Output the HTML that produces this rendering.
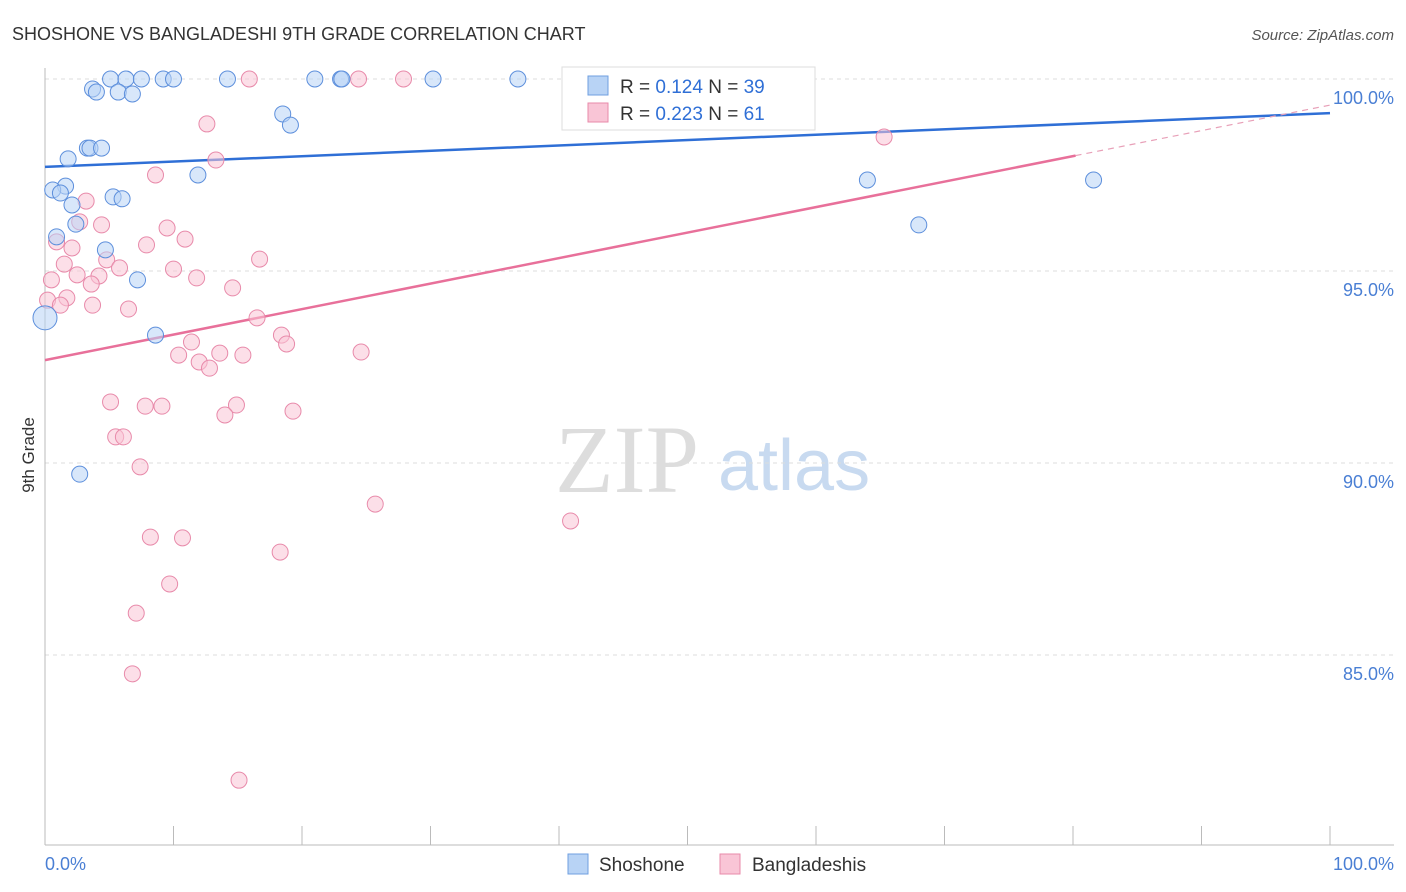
<!DOCTYPE html>
<html><head><meta charset="utf-8"><style>
body{margin:0;background:#fff;font-family:"Liberation Sans",sans-serif}
svg{display:block}
</style></head><body>
<svg id="chart" width="1406" height="892">
<text x="12" y="40" font-size="18" fill="#333">SHOSHONE VS BANGLADESHI 9TH GRADE CORRELATION CHART</text>
<text x="1394" y="40" font-size="15" fill="#555" text-anchor="end" font-style="italic">Source: ZipAtlas.com</text>
<g><text x="555" y="492" font-size="96" font-family="Liberation Serif,serif" fill="#ddd">ZIP</text><text x="718" y="490" font-size="72" fill="#c8daf0">atlas</text></g>
<g id="grid"></g><g id="axes"></g><g id="lines"></g><g id="pts"></g>
<text transform="translate(34,455) rotate(-90)" font-size="17" fill="#333" text-anchor="middle">9th Grade</text>
<text x="45" y="870" font-size="18" fill="#4a7fd4">0.0%</text>
<text x="1394" y="870" font-size="18" fill="#4a7fd4" text-anchor="end">100.0%</text>
<g>
<rect x="562" y="67" width="253" height="63" fill="#fff" stroke="#ddd"/>
<rect x="588" y="76" width="20" height="19" fill="#b8d3f5" stroke="#6f9fe0"/>
<text x="620" y="93" font-size="19" fill="#333">R = <tspan fill="#2f6fd6">0.124</tspan>   N = <tspan fill="#2f6fd6">39</tspan></text>
<rect x="588" y="103" width="20" height="19" fill="#f9c5d6" stroke="#e88aaa"/>
<text x="620" y="120" font-size="19" fill="#333">R = <tspan fill="#2f6fd6">0.223</tspan>   N = <tspan fill="#2f6fd6">61</tspan></text>
</g>
<g>
<rect x="568" y="854" width="20" height="20" fill="#b8d3f5" stroke="#6f9fe0"/><text x="599" y="871" font-size="19" fill="#333">Shoshone</text>
<rect x="720" y="854" width="20" height="20" fill="#f9c5d6" stroke="#e88aaa"/><text x="752" y="871" font-size="19" fill="#333">Bangladeshis</text>
</g>
</svg>
<script>
const yTicks=[100,95,90,85];
const yTickLabels=["100.0%","95.0%","90.0%","85.0%"];
const xTicks=[0,10,20,30,40,50,60,70,80,90,100];
const blueX=[5.1,6.3,7.5,9.2,10.0,14.2,21.0,23.0,23.1,30.2,36.8,3.7,4.0,5.7,6.8,18.5,19.1,3.3,3.5,4.4,1.8,1.6,0.6,1.2,5.3,6.0,2.1,11.9,2.4,0.9,4.7,7.2,8.6,0,2.7,64.0,68.0,81.6,42.3];
const blueY=[100,100,100,100,100,100,100,100,100,100,100,99.74,99.66,99.66,99.61,99.09,98.80,98.20,98.20,98.20,97.92,97.21,97.11,97.03,96.93,96.88,96.72,97.50,96.22,95.89,95.55,94.77,93.33,93.78,89.71,97.37,96.20,97.37,99.11];
const pinkX=[15.9,24.4,27.9,53.2,57.4,12.6,65.3,13.3,8.6,3.2,4.4,2.7,9.5,10.9,7.9,0.9,2.1,16.7,4.8,1.5,5.8,10.0,2.5,4.2,11.8,0.5,3.6,14.6,1.7,0.2,1.2,3.7,6.5,16.5,18.4,11.4,18.8,10.4,13.6,15.4,12.0,12.8,24.6,5.1,7.8,9.1,14.9,14.0,19.3,5.5,6.1,7.4,25.7,40.9,8.2,10.7,18.3,9.7,7.1,6.8,15.1];
const pinkY=[100,100,100,100,100,98.83,98.49,97.89,97.50,96.82,96.20,96.28,96.12,95.83,95.68,95.76,95.60,95.31,95.29,95.18,95.08,95.05,94.90,94.87,94.82,94.77,94.66,94.56,94.30,94.24,94.11,94.11,94.01,93.78,93.33,93.15,93.10,92.81,92.86,92.81,92.63,92.47,92.89,91.59,91.48,91.48,91.51,91.25,91.35,90.68,90.68,89.90,88.93,88.49,88.07,88.05,87.68,86.85,86.09,84.51,81.74];
const blueFit=[97.71,99.11];
const pinkFit=[92.68,99.32];
const pinkSolidEnd=80.2;
const NS="http://www.w3.org/2000/svg";
const X=v=>45+v*12.85, Y=v=>79+(100-v)*38.4;
function mk(p,t,a){const e=document.createElementNS(NS,t);for(const k in a)e.setAttribute(k,a[k]);document.getElementById(p).appendChild(e);return e;}
yTicks.forEach((t,i)=>{
 const l=mk('grid','line',{x1:45,x2:1394,y1:Y(t),y2:Y(t),stroke:'#ddd','stroke-dasharray':'4,4'});
 
 
 const tx=mk('grid','text',{x:1394,y:Y(t)+25,'font-size':18,fill:'#4a7fd4','text-anchor':'end'});
 tx.textContent=yTickLabels[i];
 
 
});
let a=mk('axes','line',{x1:45,x2:45,y1:68,y2:845,stroke:'#bbb'});


a=mk('axes','line',{x1:45,x2:1394,y1:845,y2:845,stroke:'#bbb'});


xTicks.forEach(t=>{
 const l=mk('axes','line',{x1:X(t),x2:X(t),y1:826,y2:845,stroke:'#bbb'});
 
 
});
function pts(xs,ys,fill,stroke,name){
 xs.forEach((x,i)=>{
  const r=(x===0)?12:8;
  const c=mk('pts','circle',{cx:X(x),cy:Y(ys[i]),r:r,fill:fill,'fill-opacity':0.55,stroke:stroke,'stroke-width':1});
  
  
 });
}
pts(pinkX,pinkY,'#f9c5d6','#e88aaa','bangladeshi-point');
pts(blueX,blueY,'#b8d3f5','#5d8fdc','shoshone-point');
let ln=mk('lines','line',{x1:X(0),y1:Y(blueFit[0]),x2:X(100),y2:Y(blueFit[1]),stroke:'#2f6fd6','stroke-width':2.5});


const pe=pinkFit[0]+(pinkFit[1]-pinkFit[0])*pinkSolidEnd/100;
ln=mk('lines','line',{x1:X(0),y1:Y(pinkFit[0]),x2:X(pinkSolidEnd),y2:Y(pe),stroke:'#e8709a','stroke-width':2.5});


ln=mk('lines','line',{x1:X(pinkSolidEnd),y1:Y(pe),x2:X(100),y2:Y(pinkFit[1]),stroke:'#e8a0b8','stroke-width':1.2,'stroke-dasharray':'6,5'});


</script>
</body></html>
